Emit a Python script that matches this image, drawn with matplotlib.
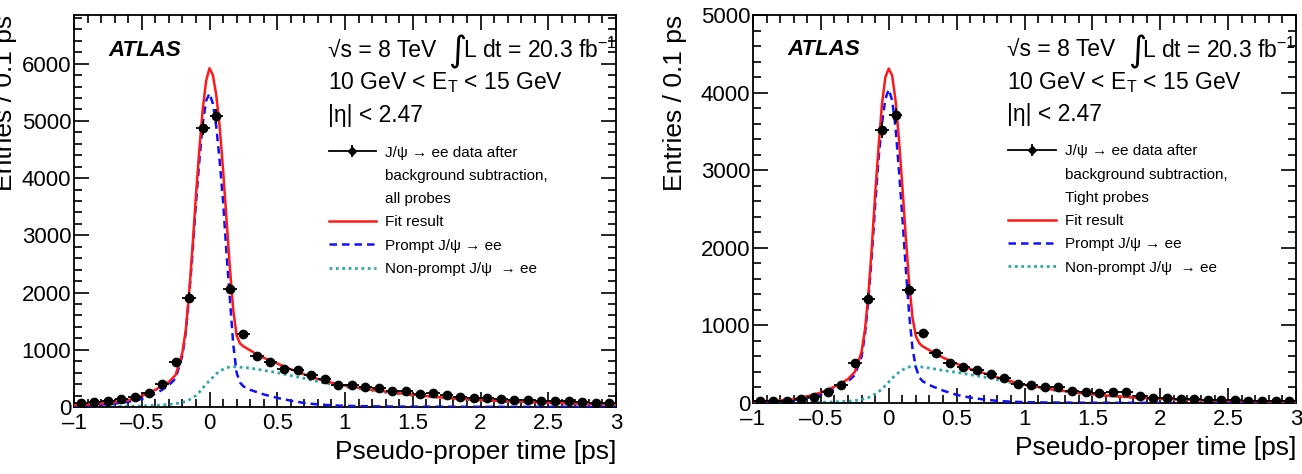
import matplotlib
matplotlib.use("Agg")
import matplotlib.pyplot as plt
from matplotlib.lines import Line2D
from matplotlib.ticker import MultipleLocator, FuncFormatter

plt.rcParams['font.family'] = ['Liberation Sans', 'DejaVu Sans']
plt.rcParams['mathtext.fontset'] = 'custom'
plt.rcParams['mathtext.rm'] = 'Liberation Sans'
plt.rcParams['mathtext.it'] = 'Liberation Sans:italic'

# bin centres of the data histograms (0.1 ps bins)
bin_centres = [-0.95, -0.85, -0.75, -0.65, -0.55, -0.45, -0.35, -0.25, -0.15, -0.05,
               0.05, 0.15, 0.25, 0.35, 0.45, 0.55, 0.65, 0.75, 0.85, 0.95,
               1.05, 1.15, 1.25, 1.35, 1.45, 1.55, 1.65, 1.75, 1.85, 1.95,
               2.05, 2.15, 2.25, 2.35, 2.45, 2.55, 2.65, 2.75, 2.85, 2.95]

data_all = [75, 87, 104, 145, 174, 250, 394, 783, 1913, 4881,
            5084, 2058, 1281, 887, 783, 667, 638, 551, 481, 383,
            377, 348, 336, 278, 278, 220, 250, 209, 180, 162,
            151, 145, 122, 116, 104, 104, 104, 87, 75, 75]
err_all = [30, 30, 30, 35, 35, 40, 45, 60, 90, 120,
           120, 90, 70, 60, 55, 50, 50, 45, 45, 40,
           40, 40, 40, 35, 35, 35, 35, 35, 30, 30,
           30, 30, 30, 30, 30, 30, 30, 30, 30, 30]

data_tight = [30, 30, 30, 57, 74, 140, 227, 510, 1343, 3518,
              3705, 1460, 900, 650, 520, 470, 420, 370, 320, 240,
              235, 205, 200, 150, 145, 125, 145, 145, 85, 70,
              70, 55, 55, 40, 35, 35, 28, 32, 25, 25]
err_tight = [20, 20, 20, 22, 25, 30, 35, 45, 70, 100,
             100, 70, 55, 45, 40, 38, 35, 35, 32, 30,
             30, 28, 28, 25, 25, 25, 25, 25, 22, 22,
             20, 20, 20, 20, 20, 20, 20, 20, 20, 20]

# fit curves
fit_x = [-1.0, -0.9, -0.8, -0.7, -0.6, -0.5, -0.4, -0.35, -0.3, -0.25, -0.2, -0.175,
         -0.15, -0.125, -0.1, -0.075, -0.05, -0.025, 0.0, 0.025, 0.05, 0.075, 0.1,
         0.125, 0.15, 0.175, 0.2, 0.225, 0.25, 0.3, 0.35, 0.4, 0.5, 0.6, 0.7, 0.8,
         0.9, 1.0, 1.2, 1.4, 1.6, 1.8, 2.0, 2.25, 2.5, 2.75, 3.0]

fit_all = [35, 45, 60, 85, 120, 190, 300, 370, 440, 560, 950, 1350,
           2000, 2800, 3700, 4500, 5200, 5700, 5920, 5800, 5450, 4900, 4150,
           3300, 2450, 1700, 1250, 1110, 1060, 990, 920, 860, 760, 660, 570, 490,
           425, 375, 300, 240, 190, 150, 120, 95, 75, 60, 48]
prompt_all = [20, 28, 40, 60, 90, 140, 230, 300, 380, 500, 900, 1300,
              1950, 2700, 3550, 4300, 4950, 5350, 5480, 5300, 4900, 4300, 3600,
              2700, 1900, 1100, 600, 430, 360, 300, 260, 220, 160, 110, 70, 45,
              30, 20, 12, 8, 6, 5, 4, 3, 3, 3, 3]
nonprompt_all = [2, 3, 5, 8, 12, 18, 28, 35, 45, 58, 80, 100,
                 125, 160, 200, 260, 330, 400, 460, 520, 580, 620, 660,
                 685, 700, 705, 700, 695, 690, 680, 660, 640, 600, 550, 500, 445,
                 395, 355, 285, 228, 182, 145, 116, 90, 70, 56, 45]

fit_tight = [20, 25, 32, 50, 85, 135, 210, 255, 310, 400, 660, 950,
             1400, 2000, 2700, 3300, 3850, 4200, 4310, 4220, 3900, 3400, 2800,
             2150, 1550, 1100, 860, 770, 730, 680, 630, 585, 505, 440, 385, 330,
             280, 235, 175, 130, 97, 72, 55, 40, 30, 22, 16]
prompt_tight = [12, 17, 24, 38, 65, 110, 180, 225, 280, 360, 600, 890,
                1320, 1900, 2550, 3150, 3600, 3920, 4040, 3900, 3550, 3000, 2400,
                1750, 1150, 700, 460, 330, 280, 230, 195, 160, 105, 70, 45, 28,
                17, 11, 6, 4, 3, 2, 2, 1, 1, 1, 1]
nonprompt_tight = [1, 2, 3, 5, 7, 10, 15, 18, 23, 30, 45, 55,
                   70, 90, 115, 145, 180, 225, 270, 320, 360, 395, 425,
                   450, 465, 472, 475, 470, 462, 450, 435, 420, 395, 365, 335, 300,
                   262, 224, 168, 126, 94, 70, 53, 39, 29, 21, 15]

panels = [
    dict(data=data_all, err=err_all, fit=fit_all, prompt=prompt_all,
         nonprompt=nonprompt_all, ymax=6850, probes="all probes",
         rect=[74 / 1302, 67 / 474, 542 / 1302, 392 / 474], ylab_x=-0.105),
    dict(data=data_tight, err=err_tight, fit=fit_tight, prompt=prompt_tight,
         nonprompt=nonprompt_tight, ymax=5000, probes="Tight probes",
         rect=[753 / 1302, 71 / 474, 543 / 1302, 388 / 474], ylab_x=-0.122),
]

RED = '#ff1a1a'
BLUE = '#1010ff'
CYAN = '#2aa8a8'


def tick_fmt(v, pos):
    return ('%g' % v).replace('-', '\u2013')


fig = plt.figure(figsize=(13.02, 4.74), dpi=100)

for p in panels:
    ax = fig.add_axes(p['rect'])
    ax.plot(fit_x, p['nonprompt'], color=CYAN, lw=2.0, dashes=(1.0, 1.3), zorder=2)
    ax.plot(fit_x, p['prompt'], color=BLUE, lw=1.8, dashes=(3.0, 2.0), zorder=3)
    ax.plot(fit_x, p['fit'], color=RED, lw=1.8, zorder=4)
    ax.errorbar(bin_centres, p['data'], xerr=0.05, yerr=p['err'], fmt='o',
                color='black', ms=6, elinewidth=1.3, capsize=0, zorder=5)

    ax.set_xlim(-1, 3)
    ax.set_ylim(0, p['ymax'])
    ax.xaxis.set_major_locator(MultipleLocator(0.5))
    ax.xaxis.set_minor_locator(MultipleLocator(0.1))
    ax.yaxis.set_major_locator(MultipleLocator(1000))
    ax.yaxis.set_minor_locator(MultipleLocator(200))
    ax.tick_params(which='both', direction='in', top=True, right=True,
                   labelsize=16, width=1.2)
    ax.tick_params(axis='x', pad=4)
    ax.tick_params(axis='y', pad=2)
    ax.tick_params(which='major', length=11)
    ax.tick_params(which='minor', length=6)
    for s in ax.spines.values():
        s.set_linewidth(1.3)
    ax.xaxis.set_major_formatter(FuncFormatter(tick_fmt))

    ax.set_xlabel('Pseudo-proper time [ps]', fontsize=19, loc='right', labelpad=5)
    ax.set_ylabel('Entries / 0.1 ps', fontsize=19, loc='top')
    ax.yaxis.set_label_coords(p['ylab_x'], 1.0)

    ax.text(0.063, 0.91, 'ATLAS', transform=ax.transAxes, fontsize=16,
            fontweight='bold', fontstyle='italic', va='center')
    ax.text(0.468, 0.91, '\u221as = 8 TeV', transform=ax.transAxes,
            fontsize=16.5, va='center')
    ax.text(0.690, 0.905, '\u222b', transform=ax.transAxes, fontsize=25,
            family='DejaVu Sans', va='center')
    ax.text(0.717, 0.91, 'L dt = 20.3 fb$^{-1}$', transform=ax.transAxes,
            fontsize=16.5, va='center')
    ax.text(0.468, 0.827, r'10 GeV < E$_{\mathrm{T}}$ < 15 GeV',
            transform=ax.transAxes, fontsize=16.5, va='center')
    ax.text(0.468, 0.743, '|\u03b7| < 2.47', transform=ax.transAxes,
            fontsize=16.5, va='center')

    blank = Line2D([], [], color='none')
    data_handle = (Line2D([], [], color='black', lw=1.3, marker='D', ms=4),
                   Line2D([], [], color='none', marker='|', ms=9, mec='black',
                          mew=1.3))
    handles = [data_handle, blank, blank,
               Line2D([], [], color=RED, lw=1.8),
               Line2D([], [], color=BLUE, lw=1.8, dashes=(3.0, 2.0)),
               Line2D([], [], color=CYAN, lw=2.0, dashes=(1.0, 1.3))]
    labels = ['J/\u03c8 \u2192 ee data after', 'background subtraction,',
              p['probes'], 'Fit result', 'Prompt J/\u03c8 \u2192 ee',
              'Non-prompt J/\u03c8  \u2192 ee']
    ax.legend(handles, labels, loc='upper left', bbox_to_anchor=(0.47, 0.667),
              frameon=False, fontsize=11, handlelength=3.1, handletextpad=0.6,
              labelspacing=0.61, borderpad=0, borderaxespad=0)

fig.savefig('out.png', dpi=100)
